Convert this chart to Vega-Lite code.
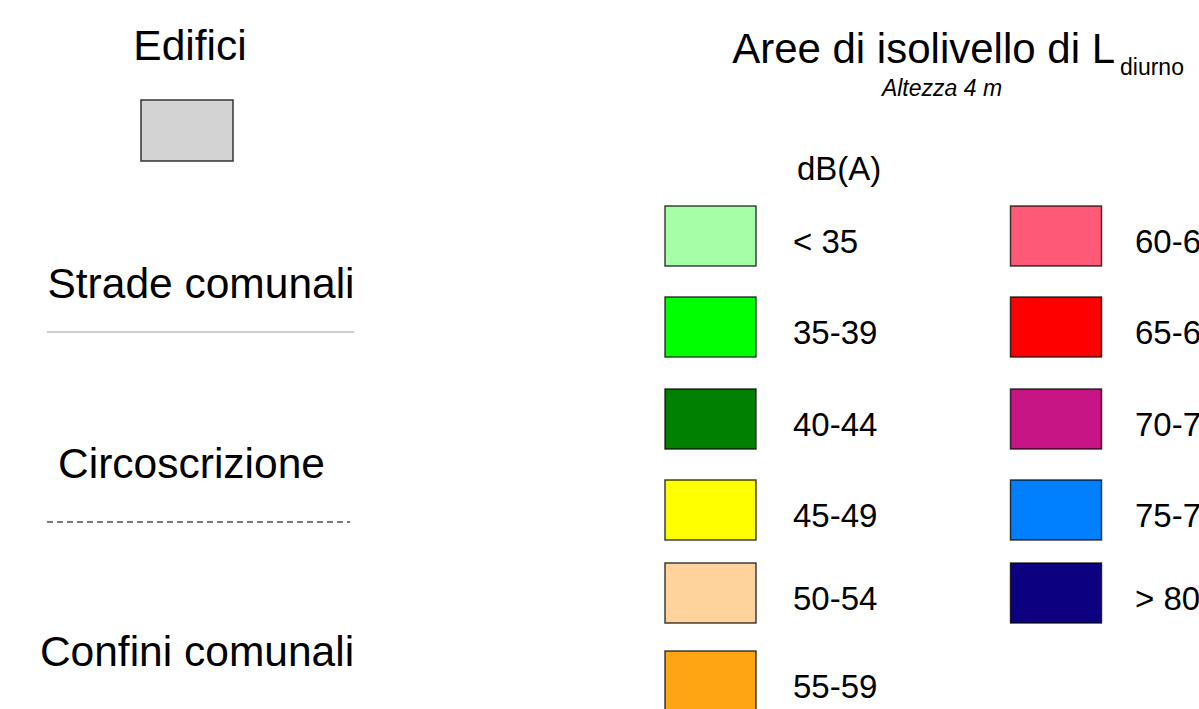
{
  "$schema": "https://vega.github.io/schema/vega-lite/v6.json",
  "width": 1199,
  "height": 709,
  "padding": 0,
  "autosize": {"type": "none"},
  "background": "white",
  "config": {"view": {"stroke": null}, "text": {"font": "Liberation Sans", "color": "#000000"}},
  "datasets": {
    "classes": [
      {"label": "< 35", "col": 0, "row": 0},
      {"label": "35-39", "col": 0, "row": 1},
      {"label": "40-44", "col": 0, "row": 2},
      {"label": "45-49", "col": 0, "row": 3},
      {"label": "50-54", "col": 0, "row": 4},
      {"label": "55-59", "col": 0, "row": 5},
      {"label": "60-64", "col": 1, "row": 0},
      {"label": "65-69", "col": 1, "row": 1},
      {"label": "70-74", "col": 1, "row": 2},
      {"label": "75-79", "col": 1, "row": 3},
      {"label": "> 80", "col": 1, "row": 4}
    ],
    "mapLayers": [
      {"name": "Edifici", "k": 0},
      {"name": "Strade comunali", "k": 1},
      {"name": "Circoscrizione", "k": 2},
      {"name": "Confini comunali", "k": 3}
    ],
    "heading": [
      {"text": "Aree di isolivello di L", "part": 0},
      {"text": "diurno", "part": 1},
      {"text": "Altezza 4 m", "part": 2},
      {"text": "dB(A)", "part": 3}
    ]
  },
  "resolve": {"scale": {"x": "independent", "y": "independent", "color": "independent"}},
  "layer": [
    {
      "data": {"name": "classes"},
      "mark": {"type": "point", "shape": "M-1,-0.66H1V0.66H-1Z", "size": 8281, "filled": true, "opacity": 1, "stroke": "#000000", "strokeOpacity": 0.75, "strokeWidth": 1.5},
      "encoding": {
        "x": {"field": "col", "type": "quantitative", "axis": null, "scale": {"domain": [0, 1], "range": [710.5, 1056], "nice": false, "zero": false}},
        "y": {"field": "row", "type": "quantitative", "axis": null, "scale": {"domain": [0, 1, 2, 3, 4, 5], "range": [236, 327, 419, 510, 593, 681], "nice": false, "zero": false}},
        "color": {"field": "label", "type": "nominal", "legend": null, "scale": {
          "domain": ["< 35", "35-39", "40-44", "45-49", "50-54", "55-59", "60-64", "65-69", "70-74", "75-79", "> 80"],
          "range": ["#a6ffa6", "#00ff00", "#008000", "#ffff00", "#ffd39b", "#ffa514", "#fe5a78", "#ff0000", "#c71585", "#0080ff", "#0c0080"]}}
      }
    },
    {
      "data": {"name": "classes"},
      "mark": {"type": "text", "fontSize": 33, "align": "left", "baseline": "alphabetic", "dy": 17},
      "encoding": {
        "x": {"field": "col", "type": "quantitative", "axis": null, "scale": {"domain": [0, 1], "range": [793, 1135], "nice": false, "zero": false}},
        "y": {"field": "row", "type": "quantitative", "axis": null, "scale": {"domain": [0, 1, 2, 3, 4, 5], "range": [236, 327, 419, 510, 593, 681], "nice": false, "zero": false}},
        "text": {"field": "label"}
      }
    },
    {
      "data": {"name": "heading"},
      "transform": [{"filter": "datum.part === 0"}],
      "mark": {"type": "text", "fontSize": 42, "align": "right", "baseline": "alphabetic"},
      "encoding": {
        "x": {"field": "part", "type": "quantitative", "axis": null, "scale": {"domain": [0, 1, 2, 3], "range": [1115, 1120, 942, 797], "nice": false, "zero": false}},
        "y": {"field": "part", "type": "quantitative", "axis": null, "scale": {"domain": [0, 1, 2, 3], "range": [63, 75, 96, 180], "nice": false, "zero": false}},
        "text": {"field": "text"}
      }
    },
    {
      "data": {"name": "heading"},
      "transform": [{"filter": "datum.part === 1"}],
      "mark": {"type": "text", "fontSize": 23, "align": "left", "baseline": "alphabetic"},
      "encoding": {
        "x": {"field": "part", "type": "quantitative", "axis": null, "scale": {"domain": [0, 1, 2, 3], "range": [1115, 1120, 942, 797], "nice": false, "zero": false}},
        "y": {"field": "part", "type": "quantitative", "axis": null, "scale": {"domain": [0, 1, 2, 3], "range": [63, 75, 96, 180], "nice": false, "zero": false}},
        "text": {"field": "text"}
      }
    },
    {
      "data": {"name": "heading"},
      "transform": [{"filter": "datum.part === 2"}],
      "mark": {"type": "text", "fontSize": 23, "fontStyle": "italic", "align": "center", "baseline": "alphabetic"},
      "encoding": {
        "x": {"field": "part", "type": "quantitative", "axis": null, "scale": {"domain": [0, 1, 2, 3], "range": [1115, 1120, 942, 797], "nice": false, "zero": false}},
        "y": {"field": "part", "type": "quantitative", "axis": null, "scale": {"domain": [0, 1, 2, 3], "range": [63, 75, 96, 180], "nice": false, "zero": false}},
        "text": {"field": "text"}
      }
    },
    {
      "data": {"name": "heading"},
      "transform": [{"filter": "datum.part === 3"}],
      "mark": {"type": "text", "fontSize": 33, "align": "left", "baseline": "alphabetic"},
      "encoding": {
        "x": {"field": "part", "type": "quantitative", "axis": null, "scale": {"domain": [0, 1, 2, 3], "range": [1115, 1120, 942, 797], "nice": false, "zero": false}},
        "y": {"field": "part", "type": "quantitative", "axis": null, "scale": {"domain": [0, 1, 2, 3], "range": [63, 75, 96, 180], "nice": false, "zero": false}},
        "text": {"field": "text"}
      }
    },
    {
      "data": {"name": "mapLayers"},
      "mark": {"type": "text", "fontSize": 42.5, "align": "center", "baseline": "alphabetic"},
      "encoding": {
        "x": {"field": "k", "type": "quantitative", "axis": null, "scale": {"domain": [0, 1, 2, 3], "range": [190, 201, 191.5, 197], "nice": false, "zero": false}},
        "y": {"field": "k", "type": "quantitative", "axis": null, "scale": {"domain": [0, 1, 2, 3], "range": [60, 298, 478, 666], "nice": false, "zero": false}},
        "text": {"field": "name"}
      }
    },
    {
      "data": {"name": "mapLayers"},
      "transform": [{"filter": "datum.k === 0"}],
      "mark": {"type": "point", "shape": "M-1,-0.663H1V0.663H-1Z", "size": 8464, "filled": true, "opacity": 1, "fill": "#d3d3d3", "stroke": "#333333", "strokeWidth": 1.5},
      "encoding": {
        "x": {"field": "k", "type": "quantitative", "axis": null, "scale": {"domain": [0, 1], "range": [187, 200], "nice": false, "zero": false}},
        "y": {"field": "k", "type": "quantitative", "axis": null, "scale": {"domain": [0, 1], "range": [130.5, 332], "nice": false, "zero": false}}
      }
    },
    {
      "data": {"name": "mapLayers"},
      "transform": [{"filter": "datum.k === 1"}],
      "mark": {"type": "rule", "stroke": "#bdbdbd", "strokeWidth": 1.5},
      "encoding": {
        "x": {"datum": 0, "type": "quantitative", "axis": null, "scale": {"domain": [0, 1], "range": [47, 354], "nice": false, "zero": false}},
        "x2": {"datum": 1},
        "y": {"field": "k", "type": "quantitative", "axis": null, "scale": {"domain": [1, 2], "range": [332, 522], "nice": false, "zero": false}}
      }
    },
    {
      "data": {"name": "mapLayers"},
      "transform": [{"filter": "datum.k === 2"}],
      "mark": {"type": "rule", "stroke": "#7a7a7a", "strokeWidth": 2, "strokeDash": [6, 4]},
      "encoding": {
        "x": {"datum": 0, "type": "quantitative", "axis": null, "scale": {"domain": [0, 1], "range": [47, 350], "nice": false, "zero": false}},
        "x2": {"datum": 1},
        "y": {"field": "k", "type": "quantitative", "axis": null, "scale": {"domain": [1, 2], "range": [332, 522], "nice": false, "zero": false}}
      }
    }
  ]
}
